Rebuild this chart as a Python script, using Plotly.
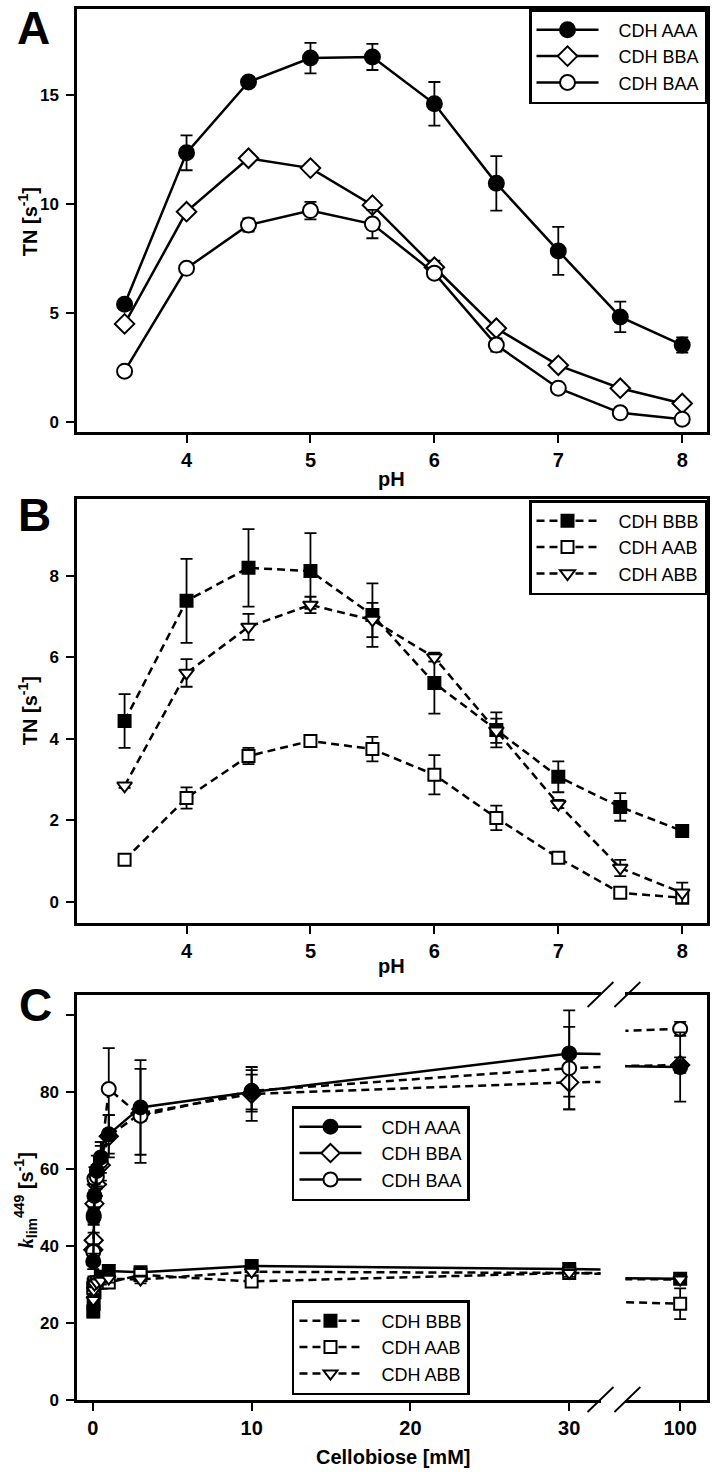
import plotly.graph_objects as go

# ---------------- data ----------------
ph = [3.5, 4.0, 4.5, 5.0, 5.5, 6.0, 6.5, 7.0, 7.5, 8.0]

tn_aaa = [5.4, 12.35, 15.6, 16.7, 16.75, 14.6, 10.95, 7.85, 4.82, 3.53]
err_aaa = [0.15, 0.8, 0.15, 0.7, 0.6, 1.0, 1.25, 1.1, 0.7, 0.35]
tn_bba = [4.5, 9.65, 12.1, 11.65, 9.95, 7.1, 4.3, 2.6, 1.55, 0.85]
err_bba = [0.1, 0.15, 0.15, 0.2, 0.2, 0.3, 0.2, 0.15, 0.15, 0.15]
tn_baa = [2.33, 7.05, 9.04, 9.7, 9.08, 6.83, 3.53, 1.55, 0.42, 0.13]
err_baa = [0.1, 0.15, 0.3, 0.4, 0.65, 0.2, 0.3, 0.15, 0.15, 0.1]

tn_bbb = [4.44, 7.39, 8.2, 8.12, 7.04, 5.37, 4.22, 3.07, 2.33, 1.74]
err_bbb = [0.66, 1.03, 0.95, 0.93, 0.78, 0.75, 0.43, 0.38, 0.34, 0.1]
tn_aab = [1.03, 2.55, 3.58, 3.95, 3.75, 3.12, 2.06, 1.08, 0.22, 0.1]
err_aab = [0.05, 0.26, 0.2, 0.05, 0.3, 0.48, 0.3, 0.1, 0.05, 0.1]
tn_abb = [2.85, 5.62, 6.75, 7.29, 6.92, 6.0, 4.2, 2.4, 0.83, 0.22]
err_abb = [0.05, 0.34, 0.32, 0.2, 0.42, 0.1, 0.3, 0.1, 0.2, 0.25]

conc = [0.025, 0.05, 0.1, 0.25, 0.5, 1, 3, 10, 30, 100]
k_aaa = [36, 47.5, 53, 59.5, 63, 69, 76, 80, 90, 86.5]
kerr_aaa = [2, 2, 3, 4, 4, 5, 12.3, 4.5, 11.2, 9]
k_bba = [39, 41.5, 51, 56, 61, 68.5, 74.5, 79.5, 82.5, 87]
kerr_bba = [2, 2, 3, 3, 5, 5.5, 2, 7, 7, 2]
k_baa = [38.5, 48, 57.5, 58, 62, 80.8, 73.8, 80.3, 86.2, 96.4]
kerr_baa = [2, 2, 3, 3, 5, 10.6, 12.2, 5.4, 10.7, 1.8]
k_bbb = [23, 25, 28, 30.5, 32, 33.5, 33.2, 34.8, 34, 31.5]
kerr_bbb = [1.5, 1.5, 1.5, 1.5, 1.5, 1.5, 1, 1, 1.5, 1]
k_aab = [29, 30, 30.5, 30.5, 30.5, 30.5, 32.5, 30.8, 33, 25]
kerr_aab = [1.5, 1.5, 1.5, 1.5, 1.5, 1, 1, 1, 1, 4]
k_abb = [26, 28.5, 30, 30.5, 31, 31.5, 31.3, 33.3, 33, 31.3]
kerr_abb = [1, 1, 1, 1, 1, 1, 1, 1, 1, 1]

ph_ticks = [4, 5, 6, 7, 8]
a_ticks = [0, 5, 10, 15]
b_ticks = [0, 2, 4, 6, 8]
c_ticks = [0, 20, 40, 60, 80, 100]
c_ticktext = ["0", "20", "40", "60", "80", ""]
c_xticks1 = [0, 10, 20, 30]
c_xticks2 = [100]

# ---------------- layout helpers ----------------
W, H = 714, 1472
L, R, T, B = 77, 4, 9, 72
PW, PH = W - L - R, H - T - B
FONT = "Liberation Sans, Arial, sans-serif"
DASH = "8px,5px"
PAD = "\u00a0\u00a0\u00a0"


def px(x):
    return (x - L) / PW


def py(y):
    return (H - B - y) / PH


fig = go.Figure()


def series(x, y, err, name, symbol, filled, dash, xa, ya, legend,
           showlegend=True, size=14):
    fig.add_trace(go.Scatter(
        x=x, y=y, mode="lines+markers", name=name,
        line=dict(color="black", width=2.5, dash=dash),
        marker=dict(symbol=symbol, size=size,
                    color="black" if filled else "white",
                    line=dict(color="black", width=2)),
        error_y=dict(type="data", array=err, color="black",
                     thickness=1.8, width=6),
        xaxis=xa, yaxis=ya, legend=legend, showlegend=showlegend))


def legend_only(name, symbol, filled, dash, legend, size=14):
    fig.add_trace(go.Scatter(
        x=[None], y=[None], mode="lines+markers", name=name,
        line=dict(color="black", width=2.5, dash=dash),
        marker=dict(symbol=symbol, size=size,
                    color="black" if filled else "white",
                    line=dict(color="black", width=2)),
        xaxis="x3", yaxis="y3", legend=legend, showlegend=True))


# Panel A
series(ph, tn_aaa, err_aaa, PAD + "CDH AAA", "circle", True, "solid", "x", "y", "legend", size=15)
series(ph, tn_bba, err_bba, PAD + "CDH BBA", "diamond", False, "solid", "x", "y", "legend", size=15)
series(ph, tn_baa, err_baa, PAD + "CDH BAA", "circle", False, "solid", "x", "y", "legend", size=15)

# Panel B
series(ph, tn_bbb, err_bbb, PAD + "CDH BBB", "square", True, DASH, "x2", "y2", "legend2", size=12)
series(ph, tn_aab, err_aab, PAD + "CDH AAB", "square", False, DASH, "x2", "y2", "legend2", size=12)
series(ph, tn_abb, err_abb, PAD + "CDH ABB", "triangle-down", False, DASH, "x2", "y2", "legend2", size=13)

# Panel C, both axis segments
c_series = [
    (k_bbb, kerr_bbb, "square", True, "solid", 12),
    (k_aab, kerr_aab, "square", False, DASH, 12),
    (k_abb, kerr_abb, "triangle-down", False, DASH, 12),
    (k_bba, kerr_bba, "diamond", False, DASH, 14),
    (k_baa, kerr_baa, "circle", False, DASH, 14),
    (k_aaa, kerr_aaa, "circle", True, "solid", 14),
]
for xa, ya in (("x3", "y3"), ("x4", "y4")):
    for yv, ev, sym, filled, dash, sz in c_series:
        series(conc, yv, ev, "", sym, filled, dash, xa, ya, "legend",
               showlegend=False, size=sz)

legend_only(PAD + "CDH AAA", "circle", True, "solid", "legend3")
legend_only(PAD + "CDH BBA", "diamond", False, "solid", "legend3")
legend_only(PAD + "CDH BAA", "circle", False, "solid", "legend3")
legend_only(PAD + "CDH BBB", "square", True, DASH, "legend4", size=12)
legend_only(PAD + "CDH AAB", "square", False, DASH, "legend4", size=12)
legend_only(PAD + "CDH ABB", "triangle-down", False, DASH, "legend4", size=12)

# ---------------- axes ----------------
xtick_font = dict(family=FONT, size=20, color="black", weight="bold")
ytick_font = dict(family=FONT, size=17, color="black", weight="bold")
common = dict(showline=True, linecolor="black", linewidth=2.5, ticks="outside",
              ticklen=8, tickwidth=2, tickcolor="black", showgrid=False,
              zeroline=False)

yA = [py(432), py(9)]
yB = [py(923), py(499)]
yC = [py(1400), py(995)]

XSO = 0
fig.update_layout(
    xaxis=dict(domain=[0, 1], range=[3.116, 8.2], anchor="y", tickvals=ph_ticks,
               mirror=True, tickfont=xtick_font, ticklabelstandoff=XSO, **common),
    yaxis=dict(domain=yA, range=[-0.46, 18.95], anchor="x", tickvals=a_ticks,
               mirror=True, tickfont=ytick_font, ticklabelstandoff=4, **common),
    xaxis2=dict(domain=[0, 1], range=[3.116, 8.2], anchor="y2", tickvals=ph_ticks,
                mirror=True, tickfont=xtick_font, ticklabelstandoff=XSO, **common),
    yaxis2=dict(domain=yB, range=[-0.52, 9.89], anchor="x2", tickvals=b_ticks,
                mirror=True, tickfont=ytick_font, ticklabelstandoff=4, **common),
    xaxis3=dict(domain=[0, px(603)], range=[-1.0, 31.97], anchor="y3",
                tickvals=c_xticks1, mirror=True, tickfont=xtick_font,
                ticklabelstandoff=XSO, **common),
    xaxis4=dict(domain=[px(628), 1], range=[96.55, 101.69], anchor="y4",
                tickvals=c_xticks2, mirror=True, tickfont=xtick_font,
                ticklabelstandoff=XSO, **common),
    yaxis3=dict(domain=yC, range=[0, 105.2], anchor="x3", tickvals=c_ticks,
                ticktext=c_ticktext, tickfont=ytick_font, ticklabelstandoff=4,
                **common),
    yaxis4=dict(domain=yC, matches="y3", anchor="x4", side="right",
                showline=True, linecolor="black", linewidth=2.5, ticks="",
                showticklabels=False, showgrid=False, zeroline=False),
)

leg_common = dict(bgcolor="white", bordercolor="black", borderwidth=2.5,
                  font=dict(family=FONT, size=18, color="black"),
                  tracegroupgap=0, itemwidth=62)
fig.update_layout(
    legend=dict(x=1, xanchor="right", y=1, yanchor="top", **leg_common),
    legend2=dict(x=1, xanchor="right", y=py(500), yanchor="top", **leg_common),
    legend3=dict(x=px(293), xanchor="left", y=py(1106), yanchor="top", **leg_common),
    legend4=dict(x=px(293), xanchor="left", y=py(1300), yanchor="top", **leg_common),
)

# ---------------- text ----------------
ann = []


def text(x, y, s, size, bold=True, angle=0):
    ann.append(dict(x=px(x), y=py(y), xref="paper", yref="paper", text=s,
                    showarrow=False, xanchor="center", yanchor="middle",
                    textangle=angle,
                    font=dict(family=FONT, size=size, color="black",
                              weight="bold" if bold else "normal")))


text(33, 28, "A", 46)
text(34, 515, "B", 46)
text(35, 1005, "C", 46)
text(393, 479, "pH", 20)
text(393, 966, "pH", 20)
text(395, 1457, "Cellobiose [mM]", 20)
text(27, 222, "TN [s<sup>-1</sup>]", 20, angle=-90)
text(27, 711, "TN [s<sup>-1</sup>]", 20, angle=-90)
text(25, 1200, "<span style=\"font-family:'Liberation Serif'\"><i>k</i></span>"
     "<sub>lim</sub><sup>449</sup> [s<sup>-1</sup>]", 20, angle=-90)

# axis-break marks
shapes = []
for y0 in (1412, 1007):
    for x0 in (590, 617):
        shapes.append(dict(type="line", xref="paper", yref="paper",
                           x0=px(x0), y0=py(y0), x1=px(x0 + 26), y1=py(y0 - 25),
                           line=dict(color="black", width=1.8)))

fig.update_layout(
    width=W, height=H, margin=dict(l=L, r=R, t=T, b=B, pad=0),
    paper_bgcolor="white", plot_bgcolor="white",
    font=dict(family=FONT, color="black"),
    annotations=ann, shapes=shapes,
)

fig.write_html("out.html", config={"displayModeBar": False},
               post_script="document.body.style.margin='0px';")
